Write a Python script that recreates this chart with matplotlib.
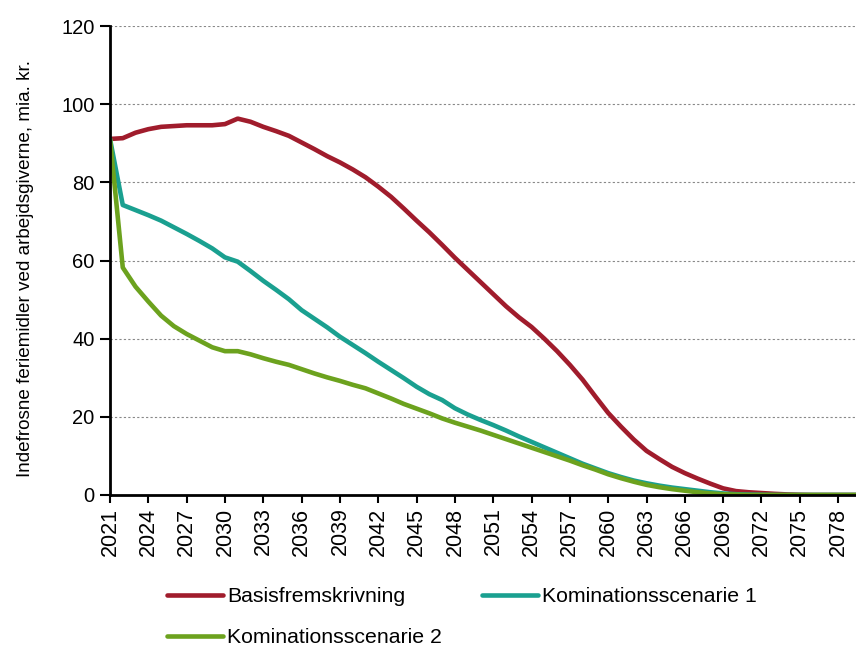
import matplotlib.pyplot as plt
import numpy as np

plt.rcParams['font.family'] = ['Liberation Sans', 'DejaVu Sans']

years = np.arange(2021, 2081)

basis = [91.1, 91.3, 92.7, 93.6, 94.2, 94.4, 94.6, 94.6, 94.6, 94.9,
         96.3, 95.5, 94.2, 93.1, 91.9, 90.2, 88.5, 86.7, 85.1, 83.3,
         81.3, 78.9, 76.3, 73.3, 70.2, 67.2, 64.0, 60.7, 57.6, 54.5,
         51.4, 48.3, 45.5, 43.0, 40.0, 36.8, 33.3, 29.5, 25.2, 21.0,
         17.5, 14.2, 11.3, 9.2, 7.2, 5.6, 4.2, 2.9, 1.7, 1.0,
         0.7, 0.5, 0.3, 0.15, 0.05, 0.0, 0.0, 0.0, 0.0, 0.0]

komb1 = [91.1, 74.2, 72.9, 71.6, 70.2, 68.5, 66.8, 65.0, 63.1, 60.8,
         59.7, 57.3, 54.8, 52.5, 50.1, 47.3, 45.1, 42.9, 40.5, 38.4,
         36.3, 34.1, 32.0, 29.9, 27.7, 25.8, 24.3, 22.2, 20.6, 19.2,
         17.9, 16.5, 15.0, 13.6, 12.2, 10.8, 9.4, 8.0, 6.8, 5.6,
         4.6, 3.7, 3.0, 2.4, 1.9, 1.5, 1.1, 0.7, 0.4, 0.2,
         0.1, 0.05, 0.0, 0.0, 0.0, 0.0, 0.0, 0.0, 0.0, 0.0]

komb2 = [91.1, 58.2, 53.3, 49.5, 45.9, 43.2, 41.2, 39.5, 37.8, 36.8,
         36.8, 36.0, 35.0, 34.1, 33.3, 32.2, 31.1, 30.1, 29.2, 28.2,
         27.3, 26.0, 24.7, 23.3, 22.1, 20.9, 19.6, 18.5, 17.5, 16.5,
         15.4, 14.3, 13.2, 12.1, 11.0, 9.9, 8.8, 7.6, 6.5, 5.3,
         4.3, 3.4, 2.6, 2.0, 1.5, 1.1, 0.7, 0.4, 0.2, 0.1,
         0.0, 0.0, 0.0, 0.0, 0.0, 0.0, 0.0, 0.0, 0.0, 0.0]

labels = ['Basisfremskrivning', 'Kominationsscenarie 1', 'Kominationsscenarie 2']
colors = ['#A01C2C', '#1AA090', '#6CA21E']

fig = plt.figure(figsize=(8.56, 6.5), dpi=100)
ax = fig.add_axes([110 / 856, 1 - 495 / 650, 746 / 856, 469 / 650])

l1, = ax.plot(years, basis, color=colors[0], lw=3.3, label=labels[0], solid_capstyle='round')
l2, = ax.plot(years, komb1, color=colors[1], lw=3.3, label=labels[1], solid_capstyle='round')
l3, = ax.plot(years, komb2, color=colors[2], lw=3.3, label=labels[2], solid_capstyle='round')

ax.set_xlim(2021, 2079.4)
ax.set_ylim(0, 120)
ax.set_yticks(range(0, 121, 20))
ax.set_xticks(range(2021, 2080, 3))
ax.tick_params(axis='x', labelrotation=90, labelsize=15.5, length=6, width=1.5, pad=3)
ax.tick_params(axis='y', labelsize=14.5, length=7, width=1.5, pad=4)
ax.yaxis.grid(True, color='#888888', lw=0.8, ls=(0, (2, 2)))
ax.set_axisbelow(True)
for s in ['top', 'right']:
    ax.spines[s].set_visible(False)
for s in ['left', 'bottom']:
    ax.spines[s].set_linewidth(2)
ax.set_ylabel('Indefrosne feriemidler ved arbejdsgiverne, mia. kr.', fontsize=13.6)
ax.yaxis.set_label_coords((34 - 110) / 746, 0.483)

fig.legend([l1, l3, l2], [labels[0], labels[2], labels[1]], ncol=2, frameon=False,
           loc='upper left', bbox_to_anchor=(167 / 856, 1 - 587 / 650), fontsize=15.3,
           handlelength=2.64, handletextpad=0.19, columnspacing=1.88, labelspacing=1.05,
           borderpad=0, borderaxespad=0)

fig.savefig('out.png', dpi=100)
